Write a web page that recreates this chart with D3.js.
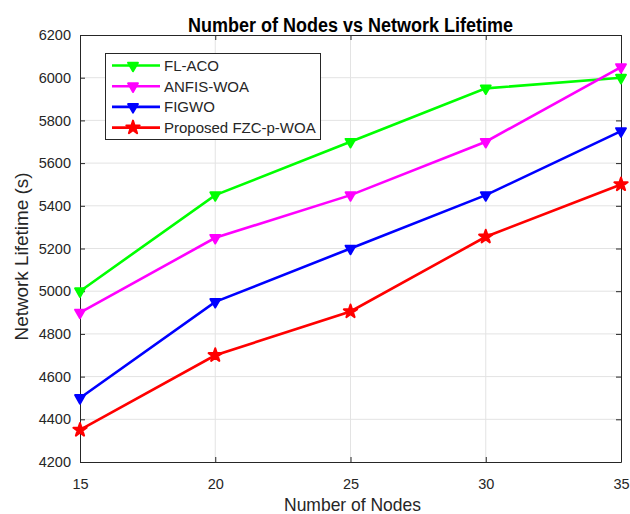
<!DOCTYPE html>
<html>
<head>
<meta charset="utf-8">
<script src="https://cdn.jsdelivr.net/npm/d3@7"></script>
<style>
  body { margin: 0; background: #fff; }
  text { font-family: "Liberation Sans", Arial, sans-serif; fill: #262626; }
</style>
</head>
<body>
<div id="chart"></div>
<script>
// data
const nodes = [15, 20, 25, 30, 35];
const seriesNames = ["FL-ACO", "ANFIS-WOA", "FIGWO", "Proposed FZC-p-WOA"];
const flAco = [5000, 5450, 5700, 5950, 6000];
const anfisWoa = [4900, 5250, 5450, 5700, 6050];
const figwo = [4500, 4950, 5200, 5450, 5750];
const proposed = [4350, 4700, 4905, 5255, 5500];
const yTicks = [4200, 4400, 4600, 4800, 5000, 5200, 5400, 5600, 5800, 6000, 6200];
const xTicks = [15, 20, 25, 30, 35];

const colors = ["#00ff00", "#ff00ff", "#0000ff", "#ff0000"];
const allSeries = [flAco, anfisWoa, figwo, proposed];

const width = 630, height = 514;
const mLeft = 80, mRight = 621, mTop = 35, mBottom = 462;

const x = d3.scaleLinear([15, 35], [mLeft, mRight]);
const y = d3.scaleLinear([4200, 6200], [mBottom, mTop]);

const svg = d3.select("#chart").append("svg")
    .attr("width", width)
    .attr("height", height);

// grid lines
svg.append("g").selectAll("line")
    .data(xTicks.slice(1, -1))
    .join("line")
    .attr("x1", d => x(d)).attr("x2", d => x(d))
    .attr("y1", mTop).attr("y2", mBottom)
    .style("stroke", "#e3e3e3").style("stroke-width", 1);

svg.append("g").selectAll("line")
    .data(yTicks.slice(1, -1))
    .join("line")
    .attr("x1", mLeft).attr("x2", mRight)
    .attr("y1", d => y(d)).attr("y2", d => y(d))
    .style("stroke", "#e3e3e3").style("stroke-width", 1);

// axes (ticks inward, box all round)
let xAxis = d3.axisBottom(x).tickValues(xTicks).tickFormat(d3.format("d"))
    .tickSizeInner(-5).tickSizeOuter(0).tickPadding(17);
let yAxis = d3.axisLeft(y).tickValues(yTicks).tickFormat(d3.format("d"))
    .tickSizeInner(-5).tickSizeOuter(0).tickPadding(9);

svg.append("g").attr("transform", `translate(0,${mBottom})`).call(xAxis);
svg.append("g").attr("transform", `translate(${mLeft},0)`).call(yAxis);
svg.append("g").attr("transform", `translate(0,${mTop})`)
    .call(d3.axisTop(x).tickValues(xTicks).tickSizeInner(-5).tickSizeOuter(0).tickFormat(""));
svg.append("g").attr("transform", `translate(${mRight},0)`)
    .call(d3.axisRight(y).tickValues(yTicks).tickSizeInner(-5).tickSizeOuter(0).tickFormat(""));

svg.selectAll(".domain").style("stroke", "#262626").style("stroke-width", 1);
svg.selectAll(".tick line").style("stroke", "#262626");
svg.selectAll(".tick text")
    .style("font-size", "14.5px")
    .style("fill", "#262626")
    .style("font-family", "'Liberation Sans', Arial, sans-serif");

// lines and markers
const line = d3.line().x((d, i) => x(nodes[i])).y(d => y(d));
const triangle = d3.symbol(d3.symbolTriangle).size(42);
const star = d3.symbol(d3.symbolStar).size(55);

allSeries.forEach(function(vals, k) {
    svg.append("path")
        .datum(vals)
        .attr("d", line)
        .style("fill", "none")
        .style("stroke", colors[k])
        .style("stroke-width", 2.6);

    svg.append("g").selectAll("path")
        .data(vals)
        .join("path")
        .attr("d", k === 3 ? star : triangle)
        .attr("transform", (d, i) => `translate(${x(nodes[i])},${y(d)})` + (k === 3 ? "" : " rotate(180)"))
        .style("fill", colors[k])
        .style("stroke", colors[k])
        .style("stroke-width", 2)
        .style("stroke-linejoin", "round");
});

// legend
let legend = svg.append("g");
legend.append("rect")
    .attr("x", 105.5).attr("y", 53.5)
    .attr("width", 215).attr("height", 86)
    .style("fill", "#fff")
    .style("stroke", "#262626")
    .style("stroke-width", 1);

seriesNames.forEach(function(name, k) {
    let ly = 65.5 + k * 20.7;
    legend.append("line")
        .attr("x1", 112).attr("x2", 160)
        .attr("y1", ly).attr("y2", ly)
        .style("stroke", colors[k])
        .style("stroke-width", 2.6);
    legend.append("path")
        .attr("d", k === 3 ? star() : triangle())
        .attr("transform", `translate(133,${ly})` + (k === 3 ? "" : " rotate(180)"))
        .style("fill", colors[k])
        .style("stroke", colors[k])
        .style("stroke-width", 2)
        .style("stroke-linejoin", "round");
    legend.append("text")
        .attr("x", 164).attr("y", ly + 5.5)
        .style("font-size", "15px")
        .text(name);
});

// title and axis labels (slightly stretched vertically like the reference)
svg.append("text")
    .attr("transform", `translate(${(mLeft + mRight) / 2},32) scale(1,1.12)`)
    .attr("text-anchor", "middle")
    .style("font-size", "18px")
    .style("font-weight", "bold")
    .style("fill", "#000")
    .text("Number of Nodes vs Network Lifetime");

svg.append("text")
    .attr("transform", `translate(${(mLeft + mRight) / 2 + 2},511) scale(1,1.1)`)
    .attr("text-anchor", "middle")
    .style("font-size", "17.5px")
    .text("Number of Nodes");

svg.append("text")
    .attr("transform", `translate(28,${(mTop + mBottom) / 2 + 8}) rotate(-90) scale(1.08,1)`)
    .attr("text-anchor", "middle")
    .style("font-size", "17.5px")
    .text("Network Lifetime (s)");
</script>
</body>
</html>
